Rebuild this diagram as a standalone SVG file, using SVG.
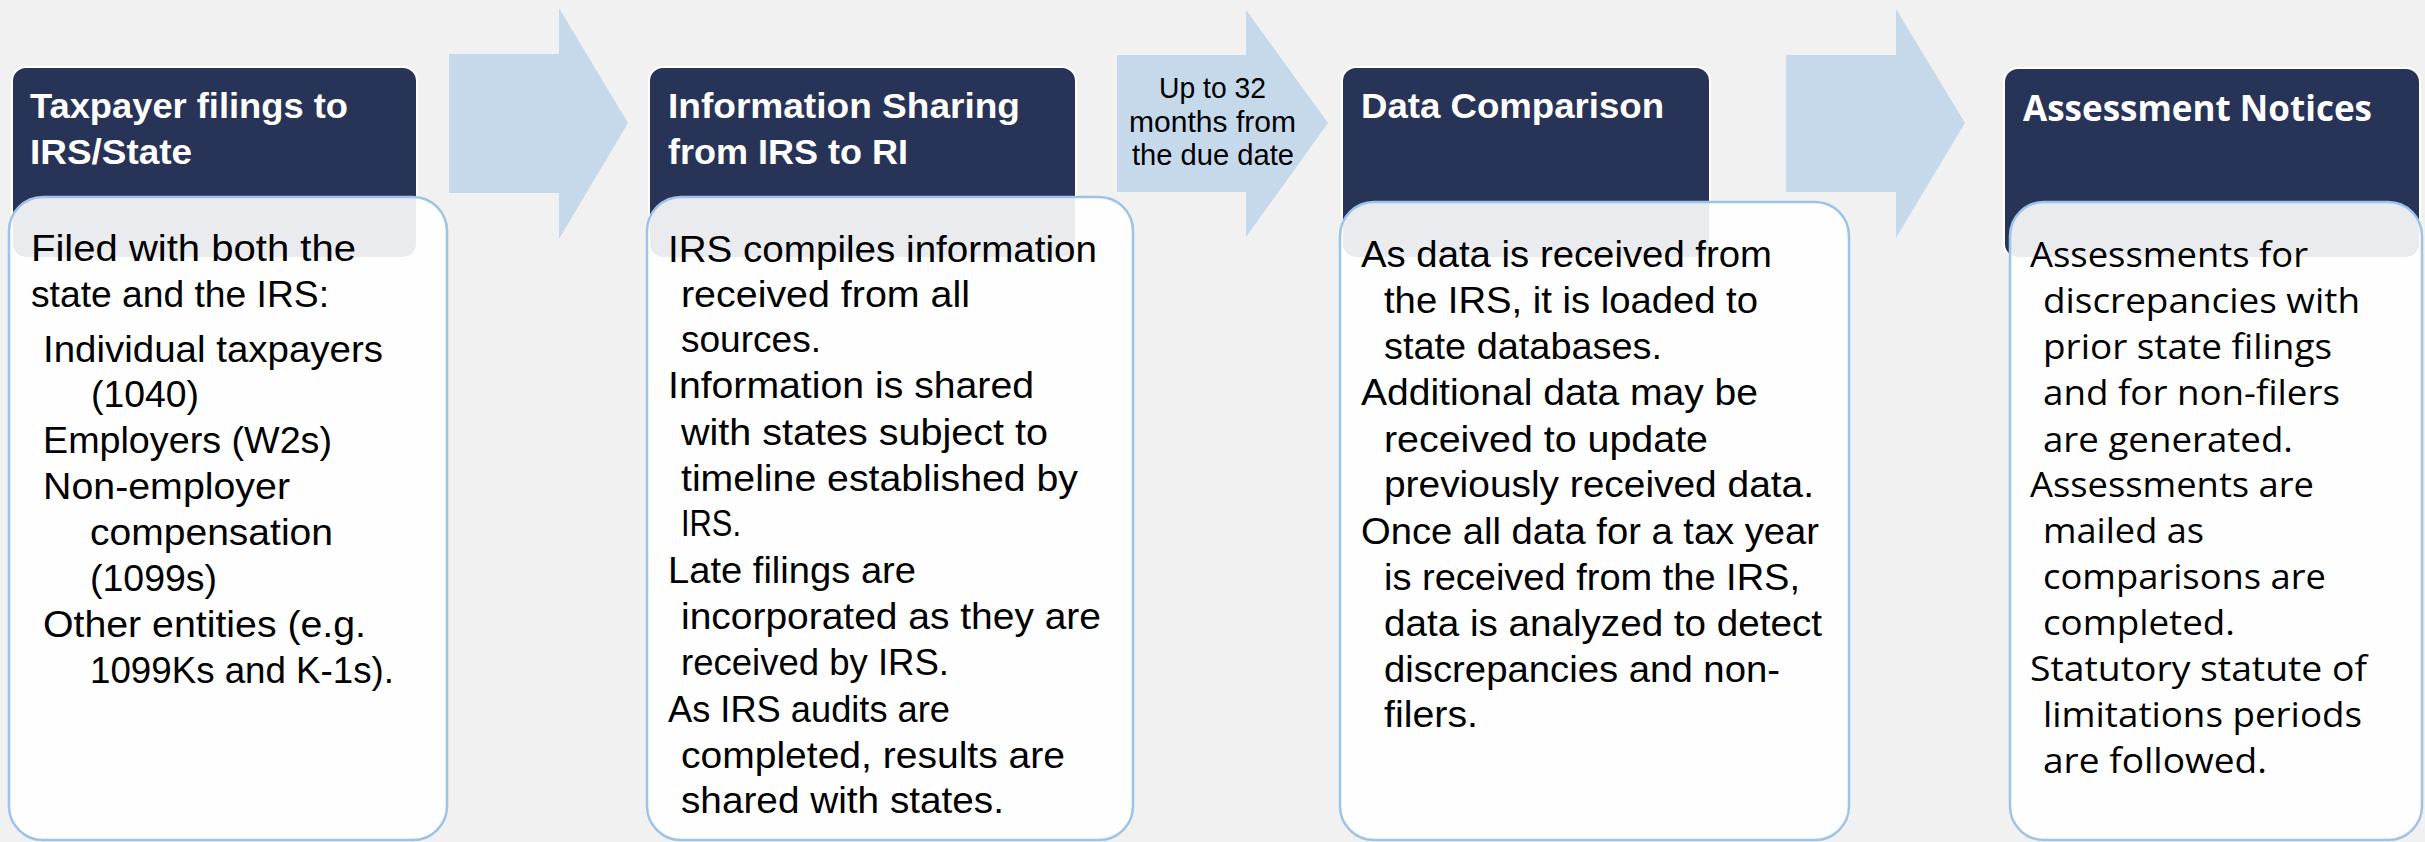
<svg xmlns="http://www.w3.org/2000/svg" width="2425" height="842" viewBox="0 0 2425 842">
<style>
.hd{fill:#283457;stroke:#ffffff;stroke-width:2}
.bd{fill:#ffffff;fill-opacity:0.9;stroke:#9DC3E6;stroke-width:2.5}
.ar{fill:#C5D9EB}
.ht{font-family:"Liberation Sans",Arial,sans-serif;font-weight:bold;font-size:35px;fill:#ffffff}
.bt{font-family:"Liberation Sans",Arial,sans-serif;font-size:37px;fill:#000000}
.at{font-family:"Liberation Sans",Arial,sans-serif;font-size:29px;fill:#000000}
.oh{font-family:"Open Sans","Liberation Sans",sans-serif;font-weight:bold;font-size:36px;fill:#ffffff}
.ot{font-family:"Open Sans","Liberation Sans",sans-serif;font-size:35px;fill:#000000}
</style>
<rect width="2425" height="842" fill="#F1F1F1"/>
<g id="connectors">
<polygon class="ar" points="449,54 559,54 559,8 628,123 559,239 559,193 449,193"/>
<g id="arrow2">
<polygon class="ar" points="1117,55 1246,55 1246,10 1328,123 1246,237 1246,192 1117,192"/>
<text class="at" x="1159" y="98" textLength="107" lengthAdjust="spacingAndGlyphs">Up to 32</text>
<text class="at" x="1129" y="132" textLength="167" lengthAdjust="spacingAndGlyphs">months from</text>
<text class="at" x="1132" y="165" textLength="162" lengthAdjust="spacingAndGlyphs">the due date</text>
</g>
<polygon class="ar" points="1786,55 1896,55 1896,9 1965,123 1896,238 1896,192 1786,192"/>
</g>
<g id="node1">
<rect class="hd" x="12" y="67" width="405" height="191" rx="14"/>
<text class="ht" x="30" y="118" textLength="318" lengthAdjust="spacingAndGlyphs">Taxpayer filings to</text>
<text class="ht" x="30" y="164" textLength="162" lengthAdjust="spacingAndGlyphs">IRS/State</text>
<rect class="bd" x="9" y="197" width="438" height="643" rx="34"/>
<text class="bt" x="31" y="261" textLength="325" lengthAdjust="spacingAndGlyphs">Filed with both the</text>
<text class="bt" x="31" y="307" textLength="298" lengthAdjust="spacingAndGlyphs">state and the IRS:</text>
<text class="bt" x="43" y="362" textLength="340" lengthAdjust="spacingAndGlyphs">Individual taxpayers</text>
<text class="bt" x="91" y="407" textLength="108" lengthAdjust="spacingAndGlyphs">(1040)</text>
<text class="bt" x="43" y="453" textLength="289" lengthAdjust="spacingAndGlyphs">Employers (W2s)</text>
<text class="bt" x="43" y="499" textLength="247" lengthAdjust="spacingAndGlyphs">Non-employer</text>
<text class="bt" x="90" y="545" textLength="243" lengthAdjust="spacingAndGlyphs">compensation</text>
<text class="bt" x="90" y="591" textLength="127" lengthAdjust="spacingAndGlyphs">(1099s)</text>
<text class="bt" x="43" y="637" textLength="323" lengthAdjust="spacingAndGlyphs">Other entities (e.g.</text>
<text class="bt" x="90" y="683" textLength="304" lengthAdjust="spacingAndGlyphs">1099Ks and K-1s).</text>
</g>
<g id="node2">
<rect class="hd" x="649" y="67" width="427" height="191" rx="14"/>
<text class="ht" x="668" y="118" textLength="352" lengthAdjust="spacingAndGlyphs">Information Sharing</text>
<text class="ht" x="668" y="164" textLength="240" lengthAdjust="spacingAndGlyphs">from IRS to RI</text>
<rect class="bd" x="647" y="197" width="486" height="643" rx="34"/>
<text class="bt" x="668" y="262" textLength="429" lengthAdjust="spacingAndGlyphs">IRS compiles information</text>
<text class="bt" x="681" y="307" textLength="289" lengthAdjust="spacingAndGlyphs">received from all</text>
<text class="bt" x="681" y="352" textLength="140" lengthAdjust="spacingAndGlyphs">sources.</text>
<text class="bt" x="668" y="398" textLength="366" lengthAdjust="spacingAndGlyphs">Information is shared</text>
<text class="bt" x="681" y="445" textLength="367" lengthAdjust="spacingAndGlyphs">with states subject to</text>
<text class="bt" x="681" y="491" textLength="397" lengthAdjust="spacingAndGlyphs">timeline established by</text>
<text class="bt" x="681" y="536" textLength="60" lengthAdjust="spacingAndGlyphs">IRS.</text>
<text class="bt" x="668" y="583" textLength="248" lengthAdjust="spacingAndGlyphs">Late filings are</text>
<text class="bt" x="681" y="629" textLength="420" lengthAdjust="spacingAndGlyphs">incorporated as they are</text>
<text class="bt" x="681" y="675" textLength="268" lengthAdjust="spacingAndGlyphs">received by IRS.</text>
<text class="bt" x="668" y="722" textLength="282" lengthAdjust="spacingAndGlyphs">As IRS audits are</text>
<text class="bt" x="681" y="768" textLength="384" lengthAdjust="spacingAndGlyphs">completed, results are</text>
<text class="bt" x="681" y="813" textLength="323" lengthAdjust="spacingAndGlyphs">shared with states.</text>
</g>
<g id="node3">
<rect class="hd" x="1342" y="67" width="368" height="191" rx="14"/>
<text class="ht" x="1361" y="118" textLength="303" lengthAdjust="spacingAndGlyphs">Data Comparison</text>
<rect class="bd" x="1340" y="202" width="509" height="638" rx="34"/>
<text class="bt" x="1361" y="267" textLength="411" lengthAdjust="spacingAndGlyphs">As data is received from</text>
<text class="bt" x="1384" y="313" textLength="374" lengthAdjust="spacingAndGlyphs">the IRS, it is loaded to</text>
<text class="bt" x="1384" y="359" textLength="278" lengthAdjust="spacingAndGlyphs">state databases.</text>
<text class="bt" x="1361" y="405" textLength="397" lengthAdjust="spacingAndGlyphs">Additional data may be</text>
<text class="bt" x="1384" y="452" textLength="324" lengthAdjust="spacingAndGlyphs">received to update</text>
<text class="bt" x="1384" y="497" textLength="430" lengthAdjust="spacingAndGlyphs">previously received data.</text>
<text class="bt" x="1361" y="544" textLength="458" lengthAdjust="spacingAndGlyphs">Once all data for a tax year</text>
<text class="bt" x="1384" y="590" textLength="416" lengthAdjust="spacingAndGlyphs">is received from the IRS,</text>
<text class="bt" x="1384" y="636" textLength="438" lengthAdjust="spacingAndGlyphs">data is analyzed to detect</text>
<text class="bt" x="1384" y="682" textLength="396" lengthAdjust="spacingAndGlyphs">discrepancies and non-</text>
<text class="bt" x="1384" y="727" textLength="94" lengthAdjust="spacingAndGlyphs">filers.</text>
</g>
<g id="node4">
<rect class="hd" x="2004" y="68" width="416" height="190" rx="14"/>
<text class="oh" x="2023" y="121" textLength="349" lengthAdjust="spacingAndGlyphs">Assessment Notices</text>
<rect class="bd" x="2010" y="202" width="412" height="638" rx="34"/>
<text class="ot" x="2030" y="267" textLength="278" lengthAdjust="spacingAndGlyphs">Assessments for</text>
<text class="ot" x="2043" y="313" textLength="317" lengthAdjust="spacingAndGlyphs">discrepancies with</text>
<text class="ot" x="2043" y="359" textLength="289" lengthAdjust="spacingAndGlyphs">prior state filings</text>
<text class="ot" x="2043" y="405" textLength="297" lengthAdjust="spacingAndGlyphs">and for non-filers</text>
<text class="ot" x="2043" y="452" textLength="250" lengthAdjust="spacingAndGlyphs">are generated.</text>
<text class="ot" x="2030" y="497" textLength="284" lengthAdjust="spacingAndGlyphs">Assessments are</text>
<text class="ot" x="2043" y="543" textLength="161" lengthAdjust="spacingAndGlyphs">mailed as</text>
<text class="ot" x="2043" y="589" textLength="283" lengthAdjust="spacingAndGlyphs">comparisons are</text>
<text class="ot" x="2043" y="635" textLength="192" lengthAdjust="spacingAndGlyphs">completed.</text>
<text class="ot" x="2030" y="681" textLength="337" lengthAdjust="spacingAndGlyphs">Statutory statute of</text>
<text class="ot" x="2043" y="727" textLength="319" lengthAdjust="spacingAndGlyphs">limitations periods</text>
<text class="ot" x="2043" y="773" textLength="224" lengthAdjust="spacingAndGlyphs">are followed.</text>
</g>
</svg>
